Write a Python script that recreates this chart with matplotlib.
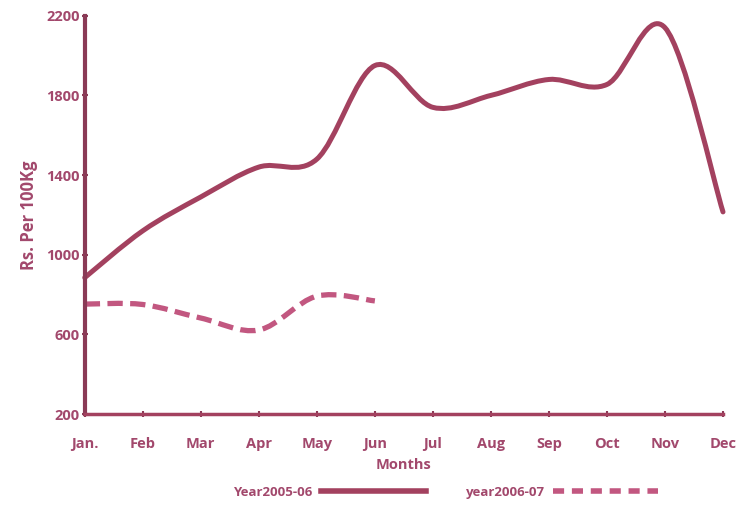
import numpy as np
import matplotlib.pyplot as plt
from matplotlib.path import Path
from matplotlib.patches import PathPatch
from matplotlib.lines import Line2D

months = ["Jan.", "Feb", "Mar", "Apr", "May", "Jun", "Jul", "Aug", "Sep", "Oct", "Nov", "Dec"]
price_2005 = [885, 1120, 1290, 1440, 1480, 1950, 1740, 1800, 1880, 1855, 2140, 1215]
price_2006 = [752, 750, 682, 622, 792, 768]
yticks = [200, 600, 1000, 1400, 1800, 2200]

axis_col = "#8a3a56"
text_col = "#a2486c"
solid_col = "#a3415f"
dash_col = "#c25780"

plt.rcParams['font.family'] = ['Open Sans', 'DejaVu Sans']


def smooth_path(xs, ys, t=1/6):
    # catmull-rom style bezier through the points
    pts = np.column_stack([xs, ys]).astype(float)
    verts = [pts[0]]
    codes = [Path.MOVETO]
    n = len(pts)
    for i in range(n - 1):
        p0 = pts[i - 1] if i > 0 else pts[i]
        p1 = pts[i]
        p2 = pts[i + 1]
        p3 = pts[i + 2] if i + 2 < n else pts[i + 1]
        c1 = p1 + (p2 - p0) * t
        c2 = p2 - (p3 - p1) * t
        verts += [c1, c2, p2]
        codes += [Path.CURVE4] * 3
    return Path(verts, codes)


fig = plt.figure(figsize=(7.37, 5.08), dpi=100)
ax = fig.add_axes([0.115, 0.185, 0.866, 0.784])

x1 = np.arange(len(price_2005))
x2 = np.arange(len(price_2006))
ax.add_patch(PathPatch(smooth_path(x1, price_2005), fill=False, edgecolor=solid_col,
                       lw=3.6, capstyle='round', clip_on=False))
ax.add_patch(PathPatch(smooth_path(x2, price_2006), fill=False, edgecolor=dash_col,
                       lw=3.8, linestyle=(0, (2.9, 1.4)), clip_on=False))

ax.set_xlim(0, 11)
ax.set_ylim(200, 2200)
ax.set_xticks(x1)
ax.set_xticklabels(months)
ax.set_yticks(yticks)

for s in ["top", "right"]:
    ax.spines[s].set_visible(False)
for s in ["left", "bottom"]:
    ax.spines[s].set_color(axis_col)
ax.spines["left"].set_linewidth(3)
ax.spines["bottom"].set_linewidth(2.5)
ax.spines["bottom"].set_color(solid_col)

ax.tick_params(axis="both", colors=axis_col, labelcolor=text_col, direction="inout",
               length=5, width=1.5, labelsize=10.5)
ax.tick_params(axis="x", pad=14)
ax.tick_params(axis="y", pad=1)
for lab in ax.get_xticklabels() + ax.get_yticklabels():
    lab.set_fontweight("bold")

ax.set_xlabel("Months", color=text_col, fontweight="bold", fontsize=10.5, labelpad=5)
ax.set_ylabel("Rs. Per 100Kg", color=text_col, fontweight="bold", fontsize=12, labelpad=6)

handles = [Line2D([], [], color=solid_col, lw=4),
           Line2D([], [], color=dash_col, lw=4, linestyle=(0, (2, 1.4)))]
fig.legend(handles, ["Year2005-06", "year2006-07"], loc="lower center",
           bbox_to_anchor=(0.605, -0.005), ncol=2, frameon=False, markerfirst=False,
           handlelength=8, columnspacing=3, handletextpad=0.6,
           prop={"weight": "bold", "size": 9.5}, labelcolor=text_col)

fig.savefig("out.png", dpi=100)
